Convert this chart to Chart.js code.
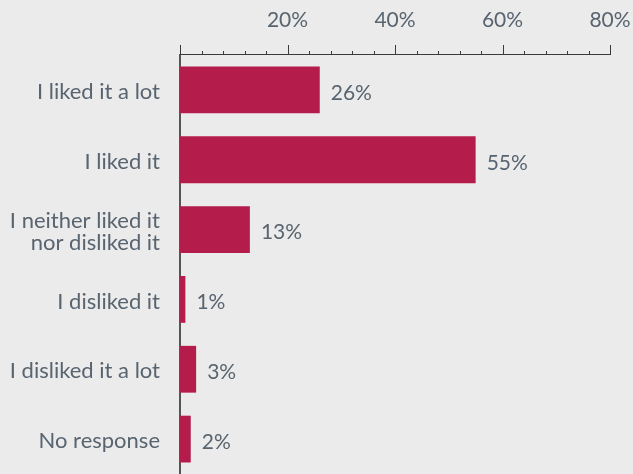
<!DOCTYPE html>
<html>
<head>
<meta charset="utf-8">
<script src="https://cdn.jsdelivr.net/npm/chart.js@4/dist/chart.umd.min.js"></script>
<style>
  html, body { margin: 0; padding: 0; background: #ebebeb; }
  canvas { display: block; }
</style>
</head>
<body>
<canvas id="surveyChart" width="633" height="474"></canvas>
<script>
const categories = [
  "I liked it a lot",
  "I liked it",
  ["I neither liked it", "nor disliked it"],
  "I disliked it",
  "I disliked it a lot",
  "No response",
];
const shares = [26, 55, 13, 1, 3, 2];
const tickLabels = [20, 40, 60, 80];

const barColor = "#b41c4c";
const textColor = "#58646f";
const axisColor = "#3a3a3a";
const fontSize = 21;

// value labels at the end of each bar
const valueLabels = {
  id: "valueLabels",
  afterDatasetsDraw(chart) {
    const { ctx } = chart;
    const meta = chart.getDatasetMeta(0);
    ctx.save();
    ctx.font = fontSize + "px Lato";
    ctx.fillStyle = textColor;
    ctx.textAlign = "left";
    ctx.textBaseline = "middle";
    meta.data.forEach((bar, i) => {
      ctx.fillText(shares[i] + "%", bar.x + 11, bar.y + 3);
    });
    ctx.restore();
  },
};

// top axis line with long major ticks and short minor ticks
const axisTicks = {
  id: "axisTicks",
  afterDraw(chart) {
    const { ctx, chartArea } = chart;
    const xs = chart.scales.x;
    const top = chartArea.top;
    ctx.save();
    ctx.strokeStyle = axisColor;
    ctx.lineWidth = 1;
    ctx.beginPath();
    ctx.moveTo(chartArea.left, top - 0.5);
    ctx.lineTo(chartArea.right, top - 0.5);
    xs.ticks.forEach((t) => {
      const x = Math.round(xs.getPixelForValue(t.value)) + 0.5;
      const len = t.value % 20 === 0 ? 10 : 4;
      ctx.moveTo(x, top);
      ctx.lineTo(x, top - len);
    });
    ctx.stroke();
    ctx.restore();
  },
};

new Chart(document.getElementById("surveyChart"), {
  type: "bar",
  data: {
    labels: categories,
    datasets: [
      {
        data: shares,
        backgroundColor: barColor,
        barPercentage: 0.67,
        categoryPercentage: 1,
      },
    ],
  },
  options: {
    indexAxis: "y",
    responsive: false,
    animation: false,
    layout: { padding: { top: 0, right: 23, bottom: 0, left: 0 } },
    plugins: {
      legend: { display: false },
      tooltip: { enabled: false },
    },
    scales: {
      x: {
        position: "top",
        min: 0,
        max: 80,
        grid: { display: false, drawTicks: false, tickLength: 0 },
        border: { display: false },
        ticks: {
          stepSize: 4,
          autoSkip: false,
          maxRotation: 0,
          padding: 22,
          color: textColor,
          font: { family: "Lato", size: fontSize },
          callback: (v) => (tickLabels.includes(v) ? v + "%" : ""),
        },
        afterFit(scale) {
          scale.height = 55;
          scale.paddingLeft = 0;
          scale.paddingRight = 0;
        },
      },
      y: {
        grid: { display: false, drawTicks: false, tickLength: 0 },
        border: { display: true, color: "#555555", width: 2 },
        ticks: {
          padding: 20,
          labelOffset: 2,
          color: textColor,
          font: { family: "Lato", size: 22, lineHeight: 1.0 },
        },
        afterFit(scale) {
          scale.width = 180;
          scale.paddingTop = 0;
          scale.paddingBottom = 0;
        },
      },
    },
  },
  plugins: [valueLabels, axisTicks],
});
</script>
</body>
</html>
